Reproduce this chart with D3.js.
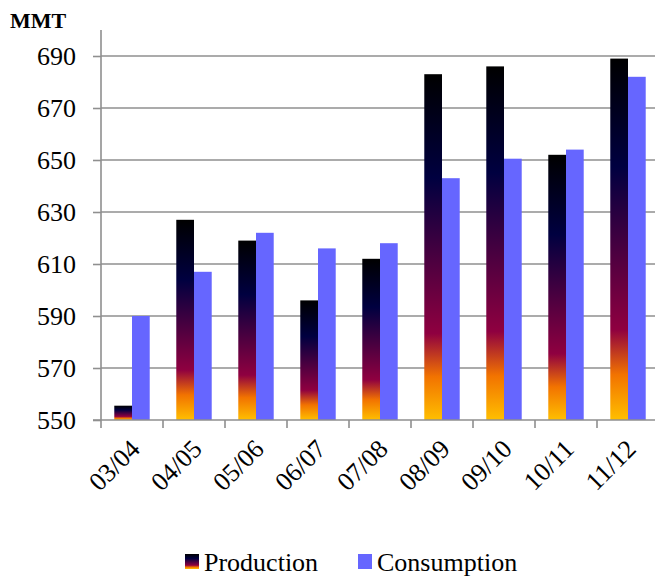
<!DOCTYPE html>
<html>
<head>
<meta charset="utf-8">
<script src="https://cdn.jsdelivr.net/npm/d3@7"></script>
<style>
  body { margin: 0; background: #fff; }
  svg, svg text { font-family: "Liberation Serif", "Times New Roman", "DejaVu Serif", serif; fill: #000; }
</style>
</head>
<body>
<div class="chart"></div>
<script>
// Dati
const seasons = ["03/04", "04/05", "05/06", "06/07", "07/08", "08/09", "09/10", "10/11", "11/12"];
const production = [555.5, 627, 619, 596, 612, 683, 686, 652, 689];
const consumption = [590, 607, 622, 616, 618, 643, 650.5, 654, 682];
const seriesNames = ["Production", "Consumption"];
const yTicks = [550, 570, 590, 610, 630, 650, 670, 690];

const width = 655;
const height = 577;
const plot = { left: 101, right: 659, top: 30, bottom: 420 };
const gridColor = "#8f8f8f";
const serif = '"Liberation Serif", "Times New Roman", "DejaVu Serif", serif';

const svg = d3.select('.chart')
    .append('svg')
    .attr('width', width)
    .attr('height', height)
    .style('font-family', serif);

// Gradiente "Late Sunset" per la produzione
const grad = svg.append('defs').append('linearGradient')
    .attr('id', 'sunset')
    .attr('x1', 0).attr('y1', 0).attr('x2', 0).attr('y2', 1);
[[0, "#000000"], [0.3, "#000040"], [0.5, "#400040"], [0.75, "#8f0040"], [0.875, "#f27300"], [1, "#ffbf00"]]
    .forEach(([o, c]) => grad.append('stop').attr('offset', o).attr('stop-color', c));

const x = d3.scaleBand()
    .domain(seasons)
    .range([plot.left, plot.right]);

// gap width 150%
const barW = x.bandwidth() / 3.5;
const xs = d3.scaleBand()
    .domain(seriesNames)
    .range([barW * 0.75, barW * 2.75]);

const y = d3.scaleLinear()
    .domain([550, 700])
    .range([plot.bottom, plot.top]);

// Griglia
svg.append('g')
    .selectAll('line')
    .data(yTicks.slice(1))
    .join('line')
    .attr('x1', plot.left).attr('x2', plot.right)
    .attr('y1', d => y(d)).attr('y2', d => y(d))
    .attr('stroke', gridColor)
    .attr('stroke-width', 1.6);

// Barre
const data = seasons.map((s, i) => ({ season: s, values: [production[i], consumption[i]] }));
const groups = svg.append('g')
    .selectAll('g')
    .data(data)
    .join('g')
    .attr('transform', d => `translate(${x(d.season)},0)`);

groups.selectAll('rect')
    .data(d => d.values.map((v, j) => ({ name: seriesNames[j], value: v })))
    .join('rect')
    .attr('x', d => xs(d.name))
    .attr('width', xs.bandwidth())
    .attr('y', d => y(d.value))
    .attr('height', d => y(550) - y(d.value))
    .attr('fill', d => d.name === "Production" ? "url(#sunset)" : "#6666ff");

// Asse y
const yAxis = svg.append('g')
    .attr('transform', `translate(${plot.left},0)`)
    .call(d3.axisLeft(y).tickValues(yTicks).tickSize(8).tickPadding(17))
    .attr('font-family', null)
    .attr('font-size', null);
yAxis.select('.domain').attr('stroke', gridColor).attr('stroke-width', 1.6)
    .attr('d', `M0,${plot.top}V${plot.bottom}`);
yAxis.selectAll('.tick line').attr('stroke', gridColor).attr('stroke-width', 1.6);
yAxis.selectAll('.tick text')
    .attr('fill', '#000')
    .style('font-family', serif)
    .style('font-size', '26px');

// Asse x
const xAxis = svg.append('g')
    .attr('transform', `translate(0,${plot.bottom})`);
xAxis.append('line')
    .attr('x1', plot.left - 8).attr('x2', plot.right)
    .attr('stroke', gridColor).attr('stroke-width', 1.6);
xAxis.selectAll('.xtick')
    .data(seasons.concat(["end"]))
    .join('line')
    .attr('class', 'xtick')
    .attr('x1', (d, i) => i < seasons.length ? x(d) : plot.right)
    .attr('x2', (d, i) => i < seasons.length ? x(d) : plot.right)
    .attr('y1', 0).attr('y2', 8)
    .attr('stroke', gridColor).attr('stroke-width', 1.6);
xAxis.selectAll('.xlabel')
    .data(seasons)
    .join('text')
    .attr('class', 'xlabel')
    .attr('transform', d => `translate(${x(d) + x.bandwidth() / 2 + 3},${24}) rotate(-45)`)
    .attr('text-anchor', 'end')
    .attr('dy', '0.35em')
    .style('font-size', '26px')
    .text(d => d);

// Unità
svg.append('text')
    .attr('x', 10).attr('y', 28)
    .style('font-size', '22px')
    .style('font-weight', 'bold')
    .text('MMT');

// Legenda
const legend = svg.append('g').attr('transform', 'translate(0,571)');
const legendItems = [
    { name: "Production", x: 185, fill: "url(#sunset)" },
    { name: "Consumption", x: 358, fill: "#6666ff" }
];
legendItems.forEach(it => {
    legend.append('rect')
        .attr('x', it.x).attr('y', -17)
        .attr('width', 14).attr('height', 15)
        .attr('fill', it.fill);
    legend.append('text')
        .attr('x', it.x + 19).attr('y', 0)
        .style('font-size', '26px')
        .text(it.name);
});
</script>
</body>
</html>
